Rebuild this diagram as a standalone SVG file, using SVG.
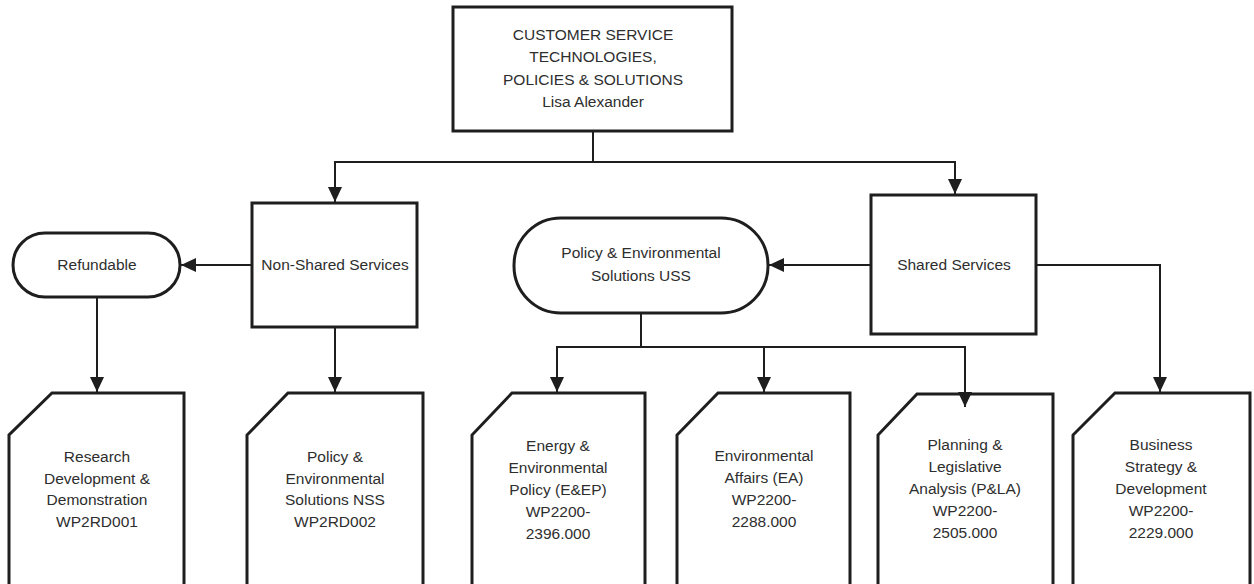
<svg xmlns="http://www.w3.org/2000/svg" width="1254" height="584" viewBox="0 0 1254 584">
<style>
.box{fill:#fff;stroke:#1e1e1e;stroke-width:3}
.t{font-family:"Liberation Sans",Arial,sans-serif;font-size:15.5px;fill:#2e2e2e;text-anchor:middle}
.c{fill:none;stroke:#1e1e1e;stroke-width:2}
</style>
<defs>
<marker id="ah" markerUnits="userSpaceOnUse" markerWidth="15" markerHeight="15" refX="15" refY="7" orient="auto">
<path d="M0,0 L15,7 L0,14 z" fill="#1e1e1e"/>
</marker>
</defs>
<rect width="1254" height="584" fill="#fff"/>
<g id="top">
<rect class="box" x="453" y="7" width="279" height="124"/>
<text class="t" x="593" y="40">CUSTOMER SERVICE</text>
<text class="t" x="593" y="62">TECHNOLOGIES,</text>
<text class="t" x="593" y="85">POLICIES &amp; SOLUTIONS</text>
<text class="t" x="593" y="107">Lisa Alexander</text>
</g>
<g id="nonshared">
<rect class="box" x="252" y="203" width="165" height="124"/>
<text class="t" x="335" y="270">Non-Shared Services</text>
</g>
<g id="refundable">
<rect class="box" x="13" y="233" width="167" height="64" rx="32"/>
<text class="t" x="97" y="270">Refundable</text>
</g>
<g id="shared">
<rect class="box" x="871" y="195" width="165" height="139"/>
<text class="t" x="954" y="270">Shared Services</text>
</g>
<g id="uss">
<rect class="box" x="514" y="218" width="254" height="95" rx="47"/>
<text class="t" x="641" y="258">Policy &amp; Environmental</text>
<text class="t" x="641" y="281">Solutions USS</text>
</g>
<g id="card1">
<path class="box" d="M9,600 V435 L52,393 H184 V600"/>
<text class="t" x="97" y="462">Research</text>
<text class="t" x="97" y="484">Development &amp;</text>
<text class="t" x="97" y="505">Demonstration</text>
<text class="t" x="97" y="527">WP2RD001</text>
</g>
<g id="card2">
<path class="box" d="M247,600 V435 L288,393 H423 V600"/>
<text class="t" x="335" y="462">Policy &amp;</text>
<text class="t" x="335" y="484">Environmental</text>
<text class="t" x="335" y="505">Solutions NSS</text>
<text class="t" x="335" y="527">WP2RD002</text>
</g>
<g id="card3">
<path class="box" d="M472,600 V435 L512,393 H645 V600"/>
<text class="t" x="558" y="451">Energy &amp;</text>
<text class="t" x="558" y="473">Environmental</text>
<text class="t" x="558" y="495">Policy (E&amp;EP)</text>
<text class="t" x="558" y="517">WP2200-</text>
<text class="t" x="558" y="539">2396.000</text>
</g>
<g id="card4">
<path class="box" d="M677,600 V435 L718,393 H850 V600"/>
<text class="t" x="764" y="461">Environmental</text>
<text class="t" x="764" y="483">Affairs (EA)</text>
<text class="t" x="764" y="505">WP2200-</text>
<text class="t" x="764" y="527">2288.000</text>
</g>
<g id="card5">
<path class="box" d="M878,600 V435 L917,394 H1053 V600"/>
<text class="t" x="965" y="450">Planning &amp;</text>
<text class="t" x="965" y="472">Legislative</text>
<text class="t" x="965" y="494">Analysis (P&amp;LA)</text>
<text class="t" x="965" y="516">WP2200-</text>
<text class="t" x="965" y="538">2505.000</text>
</g>
<g id="card6">
<path class="box" d="M1073,600 V435 L1115,393 H1250 V600"/>
<text class="t" x="1161" y="450">Business</text>
<text class="t" x="1161" y="472">Strategy &amp;</text>
<text class="t" x="1161" y="494">Development</text>
<text class="t" x="1161" y="516">WP2200-</text>
<text class="t" x="1161" y="538">2229.000</text>
</g>
<g id="connectors">
<path class="c" d="M593,131 V162"/>
<path class="c" d="M593,162 H335 V202" marker-end="url(#ah)"/>
<path class="c" d="M593,162 H955 V194" marker-end="url(#ah)"/>
<path class="c" d="M251,265 H181" marker-end="url(#ah)"/>
<path class="c" d="M97,298 V392" marker-end="url(#ah)"/>
<path class="c" d="M335,328 V392" marker-end="url(#ah)"/>
<path class="c" d="M870,265 H769" marker-end="url(#ah)"/>
<path class="c" d="M1037,265 H1160 V392" marker-end="url(#ah)"/>
<path class="c" d="M641,314 V347"/>
<path class="c" d="M641,347 H557 V392" marker-end="url(#ah)"/>
<path class="c" d="M641,347 H764 V392" marker-end="url(#ah)"/>
<path class="c" d="M641,347 H965 V407" marker-end="url(#ah)"/>
</g>
</svg>
